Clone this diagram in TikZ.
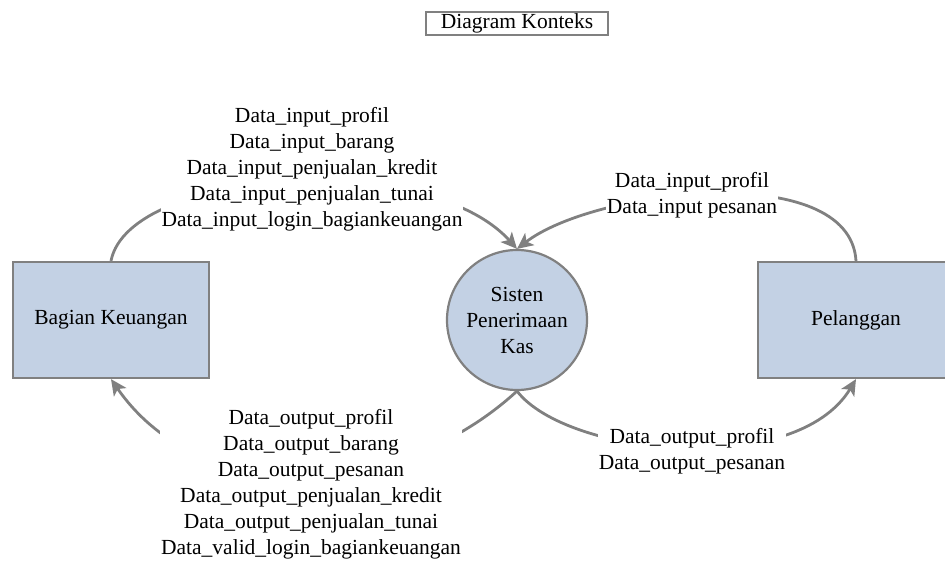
\documentclass[tikz,border=0pt]{standalone}
\usepackage{fontspec}
\setmainfont{Liberation Serif}
\usetikzlibrary{arrows.meta}
\definecolor{linegray}{RGB}{128,128,128}
\definecolor{procfill}{RGB}{195,209,228}
\begin{document}
\begin{tikzpicture}[x=1pt,y=-1pt,
  txt/.style={font=\fontsize{21.5}{26}\selectfont, text=black},
  entity/.style={txt, draw=linegray, line width=2.2pt, fill=procfill,
    minimum width=196pt, minimum height=116pt, inner sep=0pt},
  process/.style={txt, circle, draw=linegray, line width=2.2pt, fill=procfill,
    minimum size=140pt, inner sep=0pt, align=center},
  flowlabel/.style={txt, fill=white, inner sep=1pt, align=center},
  flow/.style={draw=linegray, line width=2.8pt,
    -{Stealth[length=16pt,width=15pt,inset=4pt]}},
  titlebox/.style={txt, draw=linegray, line width=1.8pt,
    minimum width=182pt, minimum height=22.7pt, inner sep=0pt}]
\useasboundingbox (0,0) rectangle (945,561);
\clip (0,0) rectangle (945,561);

% title
\node[titlebox] (title) at (517,23.7) {Diagram Konteks};

% external entities and the process
\node[entity] (bk) at (111,320) {Bagian Keuangan};
\node[entity] (pel) at (856,320) {Pelanggan};
\node[process] (sys) at (517,320) {Sisten\\Penerimaan\\Kas};

% data flows
\draw[flow] (bk.north) .. controls +(18,-92) and +(-90,-100) .. (sys.north);
\draw[flow] (pel.north) .. controls +(-6,-102) and +(78,-60) .. (sys.north);
\draw[flow] (sys.south) .. controls +(-120,110) and +(90,130) .. (bk.south);
\draw[flow] (sys.south) .. controls +(50,65) and +(-60,100) .. (pel.south);

% flow labels
\node[flowlabel] (la) at (312,169) {Data\_input\_profil\\Data\_input\_barang\\Data\_input\_penjualan\_kredit\\Data\_input\_penjualan\_tunai\\Data\_input\_login\_bagiankeuangan};
\node[flowlabel] (lc) at (692,195) {Data\_input\_profil\\Data\_input pesanan};
\node[flowlabel] (lb) at (311,484.5) {Data\_output\_profil\\Data\_output\_barang\\Data\_output\_pesanan\\Data\_output\_penjualan\_kredit\\Data\_output\_penjualan\_tunai\\Data\_valid\_login\_bagiankeuangan};
\node[flowlabel] (ld) at (692,451.7) {Data\_output\_profil\\Data\_output\_pesanan};
\end{tikzpicture}
\end{document}
